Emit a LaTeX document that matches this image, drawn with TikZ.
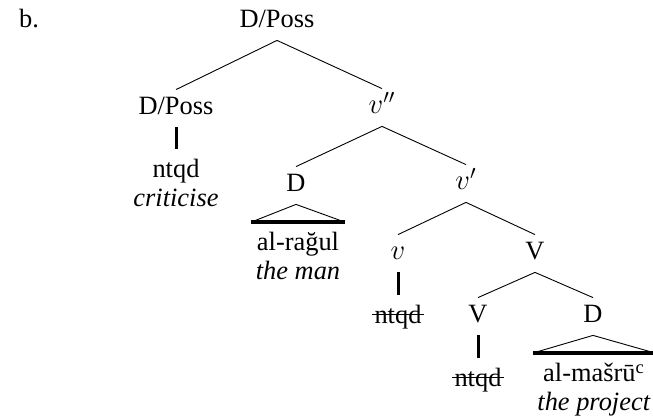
\documentclass[tikz,border=0pt]{standalone}
\usepackage{fontspec}
\setmainfont{Liberation Serif}

\begin{document}
\begin{tikzpicture}[
    x=0.5pt, y=-0.5pt,
    every node/.style={font=\fontsize{13.2}{14.5}\selectfont},
    cat/.style={anchor=base, inner xsep=0pt, inner ysep=4pt, text height=8.5pt, text depth=2pt},
    mcat/.style={cat, font=\fontsize{14.5}{16}\selectfont},
    leaf/.style={anchor=north, align=center, inner xsep=2pt, inner ysep=5pt},
    branch/.style={line width=0.45pt},
    stem/.style={line width=1.5pt},
    roof/.style={line width=0.45pt},
    roofbase/.style={line width=1.6pt},
    strike/.style={line width=0.6pt}
]
\useasboundingbox (0,0) rectangle (653,416);

\node[anchor=base west] (ex) at (12,28) {b.};

% categories
\node[cat] (dp) at (277,28) {D/Poss};
\node[cat] (dposs) at (176,115) {D/Poss};
\node[mcat] (vpp) at (382,114) {$v''$};
\node[cat] (dsubj) at (296,192) {D};
\node[mcat] (vp) at (466,190) {$v'$};
\node[mcat] (vlit) at (398,260) {$v$};
\node[cat] (vbar) at (535,260) {V};
\node[cat] (vhead) at (478,323) {V};
\node[cat] (dobj) at (593,323) {D};

% terminals
\node[leaf] (crit) at (176,149) {ntqd\\\textit{criticise}};
\node[leaf] (ragul) at (298,222) {al-rağul\\\textit{the man}};
\node[leaf, inner xsep=1pt] (copy1) at (398,295) {ntqd};
\node[leaf, inner xsep=1pt] (copy2) at (478,358) {ntqd};
\node[leaf] (masru) at (594,353) {al-mašrū\textsuperscript{c}\\\textit{the project}};

% branches
\draw[branch] (dp.south) -- (dposs.north);
\draw[branch] (dp.south) -- (vpp.north);
\draw[branch] (vpp.south) -- (dsubj.north);
\draw[branch] (vpp.south) -- (vp.north);
\draw[branch] (vp.south) -- (vlit.north);
\draw[branch] (vp.south) -- (vbar.north);
\draw[branch] (vbar.south) -- (vhead.north);
\draw[branch] (vbar.south) -- (dobj.north);

% unary stems
\draw[stem] (dposs.south) -- (crit.north);
\draw[stem] (vlit.south) -- (copy1.north);
\draw[stem] (vhead.south) -- (copy2.north);

% triangles
\draw[roof] (ragul.north west) -- (dsubj.south) -- (ragul.north east);
\draw[roofbase] (ragul.north west) -- (ragul.north east);
\draw[roof] (masru.north west) -- (dobj.south) -- (masru.north east);
\draw[roofbase] (masru.north west) -- (masru.north east);

% struck-out copies
\draw[strike] ([yshift=4.5pt]copy1.base west) -- ([yshift=4.5pt]copy1.base east);
\draw[strike] ([yshift=4.5pt]copy2.base west) -- ([yshift=4.5pt]copy2.base east);
\end{tikzpicture}
\end{document}
